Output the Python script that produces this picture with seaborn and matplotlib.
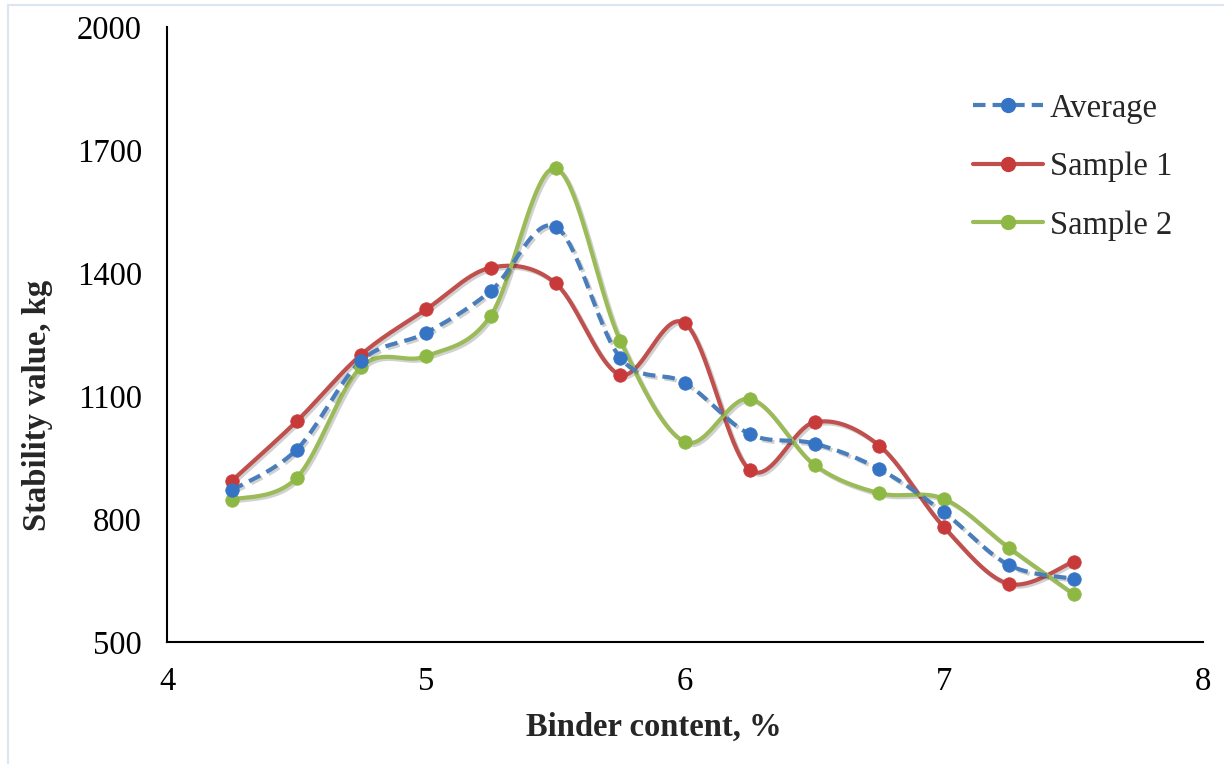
import numpy as np
import pandas as pd
import matplotlib
matplotlib.use("Agg")
import matplotlib.pyplot as plt
import matplotlib.patheffects as pe
from matplotlib.lines import Line2D
from matplotlib.patches import Rectangle
import seaborn as sns

# Binder content (%) and Marshall stability (kg)
binder = [4.25, 4.5, 4.75, 5.0, 5.25, 5.5, 5.75, 6.0, 6.25, 6.5, 6.75, 7.0, 7.25, 7.5]
sample1 = [893, 1038, 1201, 1311, 1413, 1375, 1152, 1277, 920, 1036, 979, 780, 642, 696]
sample2 = [847, 900, 1171, 1197, 1296, 1655, 1235, 988, 1093, 932, 863, 849, 730, 617]
average = [870, 969, 1186, 1254, 1356, 1513, 1193, 1132, 1007, 984, 922, 816, 688, 654]

series_names = ["Average", "Sample 1", "Sample 2"]
x_ticks = [4, 5, 6, 7, 8]
y_ticks = [500, 800, 1100, 1400, 1700, 2000]

sns.set_theme(style="white")
plt.rcParams["font.family"] = ["Liberation Serif", "DejaVu Serif"]

W, H = 1224, 764


def smooth(xs, ys, n=40):
    """Cubic Bezier smoothing through every point (Catmull-Rom style)."""
    xs = np.asarray(xs, float)
    ys = np.asarray(ys, float)
    p = np.column_stack([xs, ys])
    # put y on a comparable scale to x so the tangents look right on screen
    sy = (xs[-1] - xs[0]) / (ys.max() - ys.min() + 1e-9)
    p[:, 1] *= sy
    out = []
    m = len(p)
    for i in range(m - 1):
        p0 = p[max(i - 1, 0)]
        p1 = p[i]
        p2 = p[i + 1]
        p3 = p[min(i + 2, m - 1)]
        c1 = p1 + (p2 - p0) / 6.0
        c2 = p2 - (p3 - p1) / 6.0
        t = np.linspace(0, 1, n, endpoint=(i == m - 2))[:, None]
        seg = ((1 - t) ** 3) * p1 + 3 * ((1 - t) ** 2) * t * c1 + 3 * (1 - t) * t ** 2 * c2 + t ** 3 * p2
        out.append(seg)
    out = np.vstack(out)
    out[:, 1] /= sy
    return out[:, 0], out[:, 1]


fig = plt.figure(figsize=(W / 100, H / 100), dpi=100)
ax = fig.add_axes([167 / W, 1 - 642 / H, (1203 - 167) / W, (642 - 27) / H])

# thin chart-area border
fig.patches.append(Rectangle((8 / W, -0.01), 1.02, 1 - 5 / H + 0.01,
                             transform=fig.transFigure, fill=False,
                             edgecolor="#DCE6F2", linewidth=1.5, zorder=0))

line_colors = {"Average": "#4A7EBB", "Sample 1": "#C0504D", "Sample 2": "#9BBB59"}
marker_colors = {"Average": "#3574C4", "Sample 1": "#C83A3A", "Sample 2": "#8DB843"}
values = {"Average": average, "Sample 1": sample1, "Sample 2": sample2}
draw_order = ["Sample 1", "Sample 2", "Average"]
dash = (0, (3.0, 1.7))

shadow = [pe.SimpleLineShadow(offset=(1.5, -1.5), shadow_color="#000000", alpha=0.18), pe.Normal()]

rows = []
for name in series_names:
    sx, sy_ = smooth(binder, values[name])
    rows.append(pd.DataFrame({"x": sx, "y": sy_, "series": name}))
curves = pd.concat(rows, ignore_index=True)
points = pd.DataFrame({
    "x": binder * 3,
    "y": average + sample1 + sample2,
    "series": ["Average"] * len(binder) + ["Sample 1"] * len(binder) + ["Sample 2"] * len(binder),
})

for name in draw_order:
    d = curves[curves["series"] == name]
    ls = dash if name == "Average" else "-"
    sns.lineplot(data=d, x="x", y="y", sort=False, estimator=None, ax=ax,
                 color=line_colors[name], linewidth=3.0, linestyle=ls,
                 path_effects=shadow, zorder=3, legend=False)
    pdat = points[points["series"] == name]
    sns.scatterplot(data=pdat, x="x", y="y", ax=ax, s=95, color=marker_colors[name],
                    edgecolor=marker_colors[name], linewidth=0.5, zorder=4, legend=False)

ax.set_xlim(4, 8)
ax.set_ylim(500, 2000)
ax.set_xticks(x_ticks)
ax.set_yticks(y_ticks)
ax.set_xticklabels([str(v) for v in x_ticks])
ax.set_yticklabels([str(v) for v in y_ticks])
ax.tick_params(axis="both", length=0, labelsize=23.5, colors="black")
ax.tick_params(axis="y", pad=18)
ax.tick_params(axis="x", pad=18)

for side in ["top", "right"]:
    ax.spines[side].set_visible(False)
for side in ["left", "bottom"]:
    ax.spines[side].set_color("black")
    ax.spines[side].set_linewidth(1.5)
ax.grid(False)
ax.set_facecolor("white")

ax.set_xlabel("Binder content, %", fontsize=23.5, fontweight="bold", va="center")
ax.xaxis.set_label_coords((654 - 167) / 1036, (642 - 727) / 615)
ax.set_ylabel("Stability value, kg", fontsize=23.5, fontweight="bold", va="center")
ax.yaxis.set_label_coords((38 - 167) / 1036, (642 - 405) / 615)

handles = []
for name in series_names:
    ls = dash if name == "Average" else "-"
    handles.append(Line2D([], [], color=line_colors[name], linewidth=3.0, linestyle=ls,
                          marker="o", markersize=10, markerfacecolor=marker_colors[name],
                          markeredgecolor=marker_colors[name]))
ax.legend(handles, series_names, loc="upper left",
          bbox_to_anchor=((973 - 167) / 1036, (642 - 93) / 615),
          frameon=False, fontsize=23.5, handlelength=2.15, handletextpad=0.2,
          labelspacing=0.86, borderpad=0, borderaxespad=0)

fig.savefig("out.png", dpi=100, facecolor="white")
